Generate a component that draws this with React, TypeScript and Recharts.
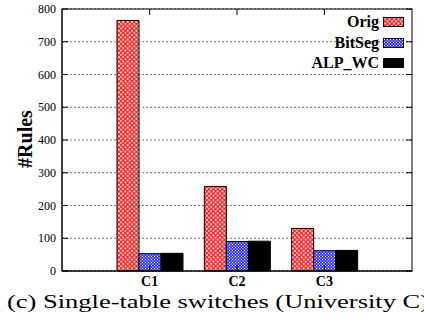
import React from 'react'
import {
  BarChart, Bar, XAxis, YAxis, CartesianGrid, Legend
} from 'recharts'

const categories = ['C1', 'C2', 'C3']
const origValues = [765, 258, 130]
const bitSegValues = [53, 90, 62]
const alpWcValues = [54, 91, 63]
const yTicks = [0, 100, 200, 300, 400, 500, 600, 700, 800]

const data = categories.map((name, i) => ({
  name,
  Orig: origValues[i],
  BitSeg: bitSegValues[i],
  ALP_WC: alpWcValues[i],
}))

const series = [
  { key: 'Orig', fill: 'url(#patOrig)', stroke: '#000' },
  { key: 'BitSeg', fill: 'url(#patBit)', stroke: '#000' },
  { key: 'ALP_WC', fill: '#000', stroke: '#000' },
]

// plot box (layout only)
const L = 62, R = 412, T = 9, B = 271
const serif = '"Liberation Serif", "Times New Roman", serif'

const YTick = (props: any) => {
  const { x, y, payload } = props
  return (
    <g>
      <text x={x} y={y} dy={4} textAnchor="end" fontFamily={serif} fontSize={12} fill="#000">
        {payload.value}
      </text>
      <line x1={L} x2={L + 6} y1={y} y2={y} stroke="#000" />
      <line x1={R - 6} x2={R} y1={y} y2={y} stroke="#000" />
    </g>
  )
}

const XTick = (props: any) => {
  const { x, payload } = props
  return (
    <g>
      <text x={x} y={B + 15} textAnchor="middle" fontFamily={serif} fontWeight="bold" fontSize={14} fill="#000">
        {payload.value}
      </text>
      <line x1={x} x2={x} y1={B} y2={B - 6} stroke="#000" />
      <line x1={x} x2={x} y1={T} y2={T + 6} stroke="#000" />
    </g>
  )
}

const LegendBox = () => (
  <div>
    {series.map(s => (
      <div key={s.key} style={{ display: 'flex', justifyContent: 'flex-end', alignItems: 'center', height: 20.5 }}>
        <span style={{ fontFamily: serif, fontWeight: 'bold', fontSize: 16, color: '#000', marginRight: 4 }}>{s.key}</span>
        <svg width={21} height={10} style={{ display: 'block' }}>
          <rect x={0.5} y={0.5} width={20} height={9} fill={s.fill} stroke={s.stroke} />
        </svg>
      </div>
    ))}
  </div>
)

export default function App() {
  return (
    <div style={{ position: 'absolute', left: 0, top: 0, width: 424, height: 329, background: '#fff' }}>
      <BarChart
        width={424}
        height={329}
        data={data}
        margin={{ top: T, right: 424 - R, left: 0, bottom: 34 }}
        barGap={0}
        barSize={22}
      >
        <defs>
          <pattern id="patOrig" width={4.4} height={4.4} patternUnits="userSpaceOnUse">
            <rect width={4.4} height={4.4} fill="#ff1a1a" />
            <circle cx={0} cy={0} r={1} fill="#fff" />
            <circle cx={4.4} cy={0} r={1} fill="#fff" />
            <circle cx={0} cy={4.4} r={1} fill="#fff" />
            <circle cx={4.4} cy={4.4} r={1} fill="#fff" />
            <circle cx={2.2} cy={2.2} r={1} fill="#fff" />
          </pattern>
          <pattern id="patBit" width={3} height={3} patternUnits="userSpaceOnUse">
            <rect width={3} height={3} fill="#1a1aff" />
            <circle cx={0} cy={0} r={0.7} fill="#fff" />
            <circle cx={3} cy={0} r={0.7} fill="#fff" />
            <circle cx={0} cy={3} r={0.7} fill="#fff" />
            <circle cx={3} cy={3} r={0.7} fill="#fff" />
            <circle cx={1.5} cy={1.5} r={0.7} fill="#fff" />
          </pattern>
        </defs>
        <CartesianGrid vertical={false} stroke="#777" strokeDasharray="2 2" />
        <XAxis
          dataKey="name"
          padding={{ left: 44, right: 44 }}
          height={24}
          tickLine={false}
          axisLine={{ stroke: '#000' }}
          tick={<XTick />}
        />
        <YAxis
          domain={[0, 800]}
          ticks={yTicks}
          width={L}
          tickSize={0}
          tickMargin={6}
          tickLine={false}
          axisLine={{ stroke: '#000' }}
          tick={<YTick />}
        />
        <Legend
          layout="vertical"
          align="center"
          verticalAlign="middle"
          wrapperStyle={{ left: 270, top: 12, width: 134 }}
          content={<LegendBox />}
        />
        {series.map(s => (
          <Bar key={s.key} dataKey={s.key} fill={s.fill} stroke={s.stroke} strokeWidth={1} isAnimationActive={false} />
        ))}
      </BarChart>
      <svg width={424} height={329} style={{ position: 'absolute', left: 0, top: 0, pointerEvents: 'none' }}>
        <rect x={L} y={T} width={R - L} height={B - T} fill="none" stroke="#000" />
        <text
          transform="translate(32,139) rotate(-90)"
          textAnchor="middle"
          fontFamily={serif}
          fontWeight="bold"
          fontSize={20}
          fill="#000"
        >
          #Rules
        </text>
        <text
          x={7}
          y={308}
          fontFamily={serif}
          fontSize={18}
          fill="#000"
          textLength={422}
          lengthAdjust="spacingAndGlyphs"
        >
          (c) Single-table switches (University C)
        </text>
      </svg>
    </div>
  )
}
